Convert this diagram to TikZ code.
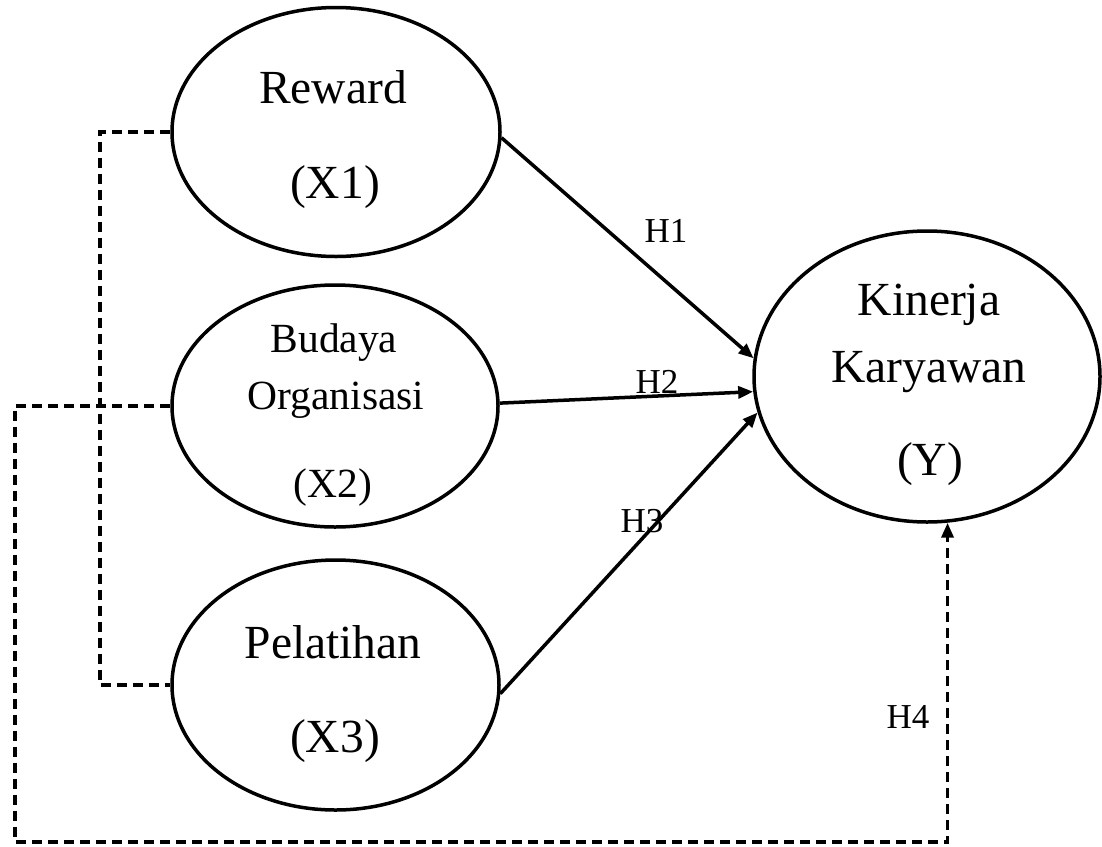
\documentclass[tikz,border=0pt]{standalone}
\usepackage{fontspec}
\setmainfont{Liberation Serif}
\usetikzlibrary{shapes.geometric,arrows.meta}
\begin{document}
\begin{tikzpicture}[x=1pt,y=-1pt,
  var/.style={draw, ellipse, line width=3.5pt, inner sep=0pt},
  big/.style={anchor=base, inner sep=0pt, font=\fontsize{47.5}{57}\selectfont},
  mid/.style={anchor=base, inner sep=0pt, font=\fontsize{41.5}{50}\selectfont},
  hlab/.style={anchor=base, inner sep=0pt, font=\fontsize{35}{42}\selectfont},
  link/.style={line width=3.5pt, -{Triangle[length=15pt,width=12pt]}},
  dashlink/.style={line width=3.5pt, dash pattern=on 10pt off 6pt}]
\useasboundingbox (0,0) rectangle (1102,846);
% variables
\node[var, minimum width=328pt, minimum height=249pt] (X1) at (336,132) {};
\node[var, minimum width=326pt, minimum height=242pt] (X2) at (335,406) {};
\node[var, minimum width=327pt, minimum height=250pt] (X3) at (335.5,685) {};
\node[var, minimum width=346pt, minimum height=291pt] (Y) at (927,376.5) {};
% texts
\node[big] (t1a) at (333,103) {Reward};
\node[big] (t1b) at (335,198) {(X1)};
\node[mid] (t2a) at (334,352) {Budaya};
\node[mid] (t2b) at (336,409) {Organisasi};
\node[mid] (t2c) at (333,497) {(X2)};
\node[big] (t3a) at (333,658) {Pelatihan};
\node[big] (t3b) at (335,752) {(X3)};
\node[big] (tya) at (929,315) {Kinerja};
\node[big] (tyb) at (929,382) {Karyawan};
\node[big] (tyc) at (930,475) {(Y)};
% direct paths
\draw[link] (X1.-2) -- (Y.174);
\draw[link] (X2.1) -- (Y.185);
\draw[link] (X3.-3) -- (Y.192);
% hypothesis labels
\node[hlab] (h1) at (666,242) {H1};
\node[hlab] (h2) at (657,393) {H2};
\node[hlab] (h3) at (642,532) {H3};
\node[hlab] (h4) at (908,728) {H4};
% dashed connectors
\coordinate (il) at (100,0);
\coordinate (bl) at (15,842);
\draw[dashlink] (X1.west) -- (X1.west -| il) |- (X3.west);
\draw[dashlink, -{Triangle[length=15pt,width=12pt]}] (X2.west) -| (bl) -| (Y.-82.5);
\end{tikzpicture}
\end{document}
